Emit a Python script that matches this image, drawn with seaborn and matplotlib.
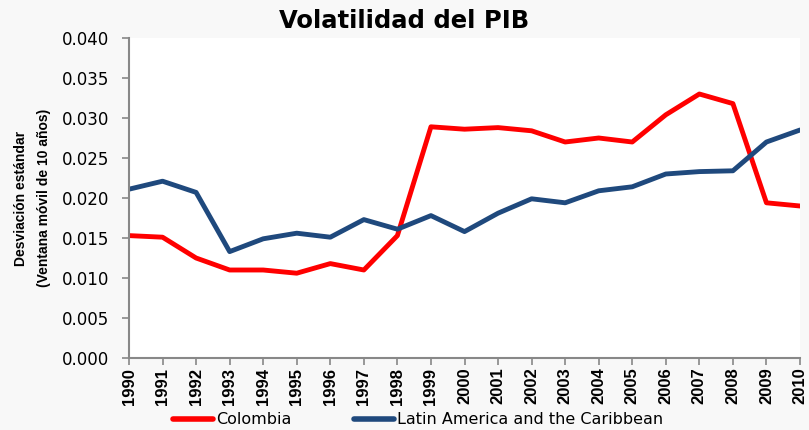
import pandas as pd
import matplotlib
matplotlib.use("Agg")
import matplotlib.pyplot as plt
import seaborn as sns

# Volatilidad del PIB: desviacion estandar, ventana movil de 10 anos
years = list(range(1990, 2011))
colombia = [0.0153, 0.0151, 0.0125, 0.0110, 0.0110, 0.0106, 0.0118, 0.0110, 0.0153,
            0.0289, 0.0286, 0.0288, 0.0284, 0.0270, 0.0275, 0.0270, 0.0304, 0.0330,
            0.0318, 0.0194, 0.0190]
latam = [0.0211, 0.0221, 0.0207, 0.0133, 0.0149, 0.0156, 0.0151, 0.0173, 0.0161,
         0.0178, 0.0158, 0.0181, 0.0199, 0.0194, 0.0209, 0.0214, 0.0230, 0.0233,
         0.0234, 0.0270, 0.0285]
series_names = ["Colombia", "Latin America and the Caribbean"]
colors = ["#ff0000", "#1f497d"]

df = pd.DataFrame({"year": years, series_names[0]: colombia, series_names[1]: latam})
long = df.melt(id_vars="year", var_name="serie", value_name="sd")

sns.set_theme(style="white")
plt.rcParams["font.family"] = ["DejaVu Sans"]
plt.rcParams["text.color"] = "black"

narrow = ["Liberation Sans", "DejaVu Sans"]

fig = plt.figure(figsize=(8.09, 4.30), dpi=100, facecolor="#f8f8f8")
ax = fig.add_axes([129 / 809, 1 - 358 / 430, (800 - 129) / 809, (358 - 38) / 430])
ax.set_facecolor("white")

sns.lineplot(data=long, x="year", y="sd", hue="serie", palette=colors,
             linewidth=3.5, ax=ax, legend=False)

ax.set_xlim(1990, 2010)
ax.set_ylim(0, 0.040)
ax.set_xticks(years)
ax.set_xticklabels([str(y) for y in years], rotation=90, fontsize=12,
                   fontweight="bold", family=narrow, color="black")
ax.set_yticks([i * 0.005 for i in range(9)])
ax.set_yticklabels([f"{i * 0.005:.3f}" for i in range(9)], fontsize=12, color="black")
ax.tick_params(axis="both", direction="out", length=5, width=1.2, color="#888888",
               left=True, bottom=True)
ax.tick_params(axis="y", pad=9)
ax.tick_params(axis="x", pad=2)
for s in ["top", "right"]:
    ax.spines[s].set_visible(False)
for s in ["left", "bottom"]:
    ax.spines[s].set_color("#888888")
    ax.spines[s].set_linewidth(1.5)
ax.set_xlabel("")
ax.set_ylabel("Desviación estándar\n(Ventana móvil de 10 años)", fontsize=10,
              fontweight="bold", family=narrow, color="black",
              linespacing=1.85, labelpad=8)

fig.text(0.5, 1 - 21 / 430, "Volatilidad del PIB", ha="center", va="center",
         fontsize=17.5, fontweight="bold", color="black")

handles = [plt.Line2D([], [], color=c, linewidth=4) for c in colors]
fig.legend(handles, series_names, loc="center", bbox_to_anchor=(418 / 809, 1 - 420 / 430),
           ncol=2, frameon=False, fontsize=11.5, handlelength=2.5, columnspacing=3.9,
           handletextpad=0.2, borderpad=0)

fig.savefig("out.png", dpi=100, facecolor=fig.get_facecolor())
